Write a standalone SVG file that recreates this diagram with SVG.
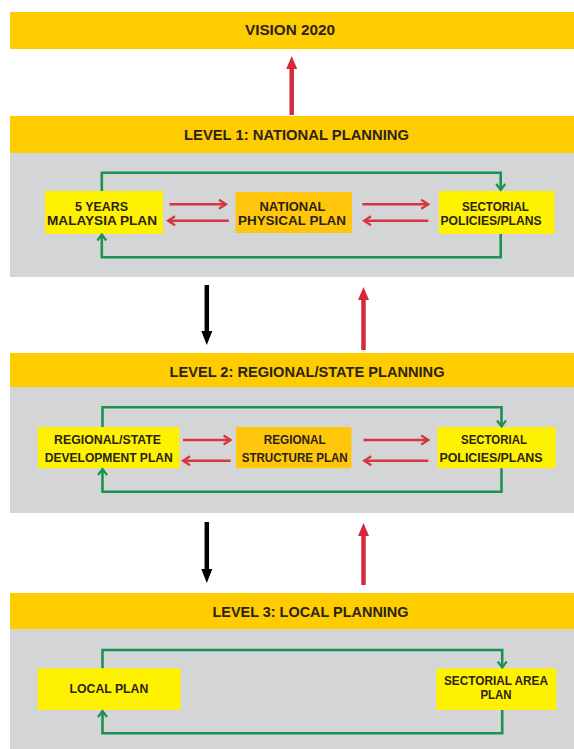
<svg xmlns="http://www.w3.org/2000/svg" width="574" height="749" viewBox="0 0 574 749">
<style>
.bar{fill:#FFCC00}
.panel{fill:#D4D5D7}
.yb{fill:#FFF200}
.ob{fill:#FFC60B}
text{font-family:"Liberation Sans",Arial,sans-serif;font-weight:bold;fill:#2A2318;text-anchor:middle}
.t{font-size:15px}
.v{font-size:15px}
.b{font-size:12px}
.thick-r{stroke:#D42A3C;stroke-width:4.5;fill:none}
.thick-k{stroke:#000;stroke-width:4.5;fill:none}
.red{stroke:#D8343F;stroke-width:2.5;fill:none}
.grn{stroke:#1E9150;stroke-width:2.6;fill:none}
</style>
<defs>
<marker id="hr" markerUnits="userSpaceOnUse" markerWidth="14" markerHeight="12" refX="0" refY="5.5" orient="auto" overflow="visible"><path d="M0,0 L13,5.5 L0,11 z" fill="#D42A3C"/></marker>
<marker id="hk" markerUnits="userSpaceOnUse" markerWidth="16" markerHeight="12" refX="0" refY="5.5" orient="auto" overflow="visible"><path d="M0,0 L14,5.5 L0,11 z" fill="#000"/></marker>
<marker id="or" markerUnits="userSpaceOnUse" markerWidth="10" markerHeight="10" refX="7" refY="4.5" orient="auto" overflow="visible"><path d="M0,0 L7,4.5 L0,9" fill="none" stroke="#D8343F" stroke-width="2.2"/></marker>
<marker id="og" markerUnits="userSpaceOnUse" markerWidth="10" markerHeight="10" refX="6" refY="4.5" orient="auto" overflow="visible"><path d="M0,0 L6,4.5 L0,9" fill="none" stroke="#1E9150" stroke-width="2.2"/></marker>
</defs>

<!-- backgrounds -->
<g id="vision">
<rect class="bar" x="10" y="12" width="564" height="37"/>
<text class="v" x="290" y="35" textLength="90" lengthAdjust="spacingAndGlyphs">VISION 2020</text>
</g>

<g id="level1">
<rect class="bar" x="10" y="116" width="564" height="37"/>
<rect class="panel" x="10" y="153" width="564" height="124"/>
<text class="t" x="296.5" y="140" textLength="225" lengthAdjust="spacingAndGlyphs">LEVEL 1: NATIONAL PLANNING</text>
</g>

<g id="level2">
<rect class="bar" x="10" y="353" width="564" height="34"/>
<rect class="panel" x="10" y="387" width="564" height="126"/>
<text class="t" x="307" y="377" textLength="275" lengthAdjust="spacingAndGlyphs">LEVEL 2: REGIONAL/STATE PLANNING</text>
</g>

<g id="level3">
<rect class="bar" x="10" y="593" width="564" height="36"/>
<rect class="panel" x="10" y="629" width="564" height="120"/>
<text class="t" x="310.5" y="616.5" textLength="196" lengthAdjust="spacingAndGlyphs">LEVEL 3: LOCAL PLANNING</text>
</g>

<!-- level 1 nodes -->
<g id="malaysia-plan">
<rect class="yb" x="45" y="191" width="118" height="43"/>
<text class="b" x="101.5" y="210.5" textLength="53" lengthAdjust="spacingAndGlyphs">5 YEARS</text>
<text class="b" x="102" y="224.5" textLength="110" lengthAdjust="spacingAndGlyphs">MALAYSIA PLAN</text>
</g>
<g id="national-physical-plan">
<rect class="ob" x="235.5" y="192" width="116.5" height="41"/>
<text class="b" x="292.5" y="211" textLength="66" lengthAdjust="spacingAndGlyphs">NATIONAL</text>
<text class="b" x="292" y="225" textLength="108" lengthAdjust="spacingAndGlyphs">PHYSICAL PLAN</text>
</g>
<g id="sectorial-1">
<rect class="yb" x="439" y="191" width="115.5" height="43"/>
<text class="b" x="495.4" y="211" textLength="67" lengthAdjust="spacingAndGlyphs">SECTORIAL</text>
<text class="b" x="491" y="225" textLength="101" lengthAdjust="spacingAndGlyphs">POLICIES/PLANS</text>
</g>

<!-- level 2 nodes -->
<g id="regional-state-plan">
<rect class="yb" x="37.7" y="427" width="141.7" height="41.3"/>
<text class="b" x="107.6" y="444" textLength="107" lengthAdjust="spacingAndGlyphs">REGIONAL/STATE</text>
<text class="b" x="108.7" y="461.5" textLength="128" lengthAdjust="spacingAndGlyphs">DEVELOPMENT PLAN</text>
</g>
<g id="regional-structure-plan">
<rect class="ob" x="236" y="427" width="115.4" height="41.3"/>
<text class="b" x="294.7" y="443.5" textLength="62" lengthAdjust="spacingAndGlyphs">REGIONAL</text>
<text class="b" x="294.7" y="461.5" textLength="106" lengthAdjust="spacingAndGlyphs">STRUCTURE PLAN</text>
</g>
<g id="sectorial-2">
<rect class="yb" x="437.4" y="427" width="118.2" height="41.3"/>
<text class="b" x="494" y="444" textLength="66" lengthAdjust="spacingAndGlyphs">SECTORIAL</text>
<text class="b" x="491" y="461.5" textLength="103" lengthAdjust="spacingAndGlyphs">POLICIES/PLANS</text>
</g>

<!-- level 3 nodes -->
<g id="local-plan">
<rect class="yb" x="37.7" y="668.3" width="142.8" height="41.7"/>
<text class="b" x="108.9" y="692.7" textLength="78.7" lengthAdjust="spacingAndGlyphs">LOCAL PLAN</text>
</g>
<g id="sectorial-area-plan">
<rect class="yb" x="436.3" y="668.3" width="120.1" height="41.7"/>
<text class="b" x="496" y="685" textLength="104" lengthAdjust="spacingAndGlyphs">SECTORIAL AREA</text>
<text class="b" x="496" y="699" textLength="31" lengthAdjust="spacingAndGlyphs">PLAN</text>
</g>

<!-- connectors -->
<g id="connectors">
<line class="thick-r" x1="291.7" y1="115" x2="291.7" y2="69" marker-end="url(#hr)"/>
<line class="thick-k" x1="206.8" y1="285" x2="206.8" y2="331" marker-end="url(#hk)"/>
<line class="thick-r" x1="363.5" y1="350" x2="363.5" y2="300" marker-end="url(#hr)"/>
<line class="thick-k" x1="206.8" y1="522" x2="206.8" y2="569" marker-end="url(#hk)"/>
<line class="thick-r" x1="363.5" y1="585" x2="363.5" y2="536" marker-end="url(#hr)"/>

<line class="red" x1="169.5" y1="204.3" x2="226" y2="204.3" marker-end="url(#or)"/>
<line class="red" x1="228.8" y1="220.7" x2="168" y2="220.7" marker-end="url(#or)"/>
<line class="red" x1="362.4" y1="204.3" x2="428.3" y2="204.3" marker-end="url(#or)"/>
<line class="red" x1="428.3" y1="220.7" x2="364" y2="220.7" marker-end="url(#or)"/>

<line class="red" x1="183" y1="440" x2="230.6" y2="440" marker-end="url(#or)"/>
<line class="red" x1="230.6" y1="460.7" x2="183" y2="460.7" marker-end="url(#or)"/>
<line class="red" x1="363.5" y1="440" x2="428.3" y2="440" marker-end="url(#or)"/>
<line class="red" x1="428.3" y1="460.7" x2="364.2" y2="460.7" marker-end="url(#or)"/>

<path class="grn" d="M101.8,191 V172.7 H500.7 V190" marker-end="url(#og)"/>
<path class="grn" d="M500.7,234 V257.3 H101.8 V234.5" marker-end="url(#og)"/>
<path class="grn" d="M102.5,427 V407.3 H501.5 V426.5" marker-end="url(#og)"/>
<path class="grn" d="M501.5,468.3 V491.7 H102.5 V469" marker-end="url(#og)"/>
<path class="grn" d="M102.5,668.3 V650 H502.2 V667.5" marker-end="url(#og)"/>
<path class="grn" d="M502.2,710 V733.3 H102.5 V711" marker-end="url(#og)"/>
</g>
</svg>
